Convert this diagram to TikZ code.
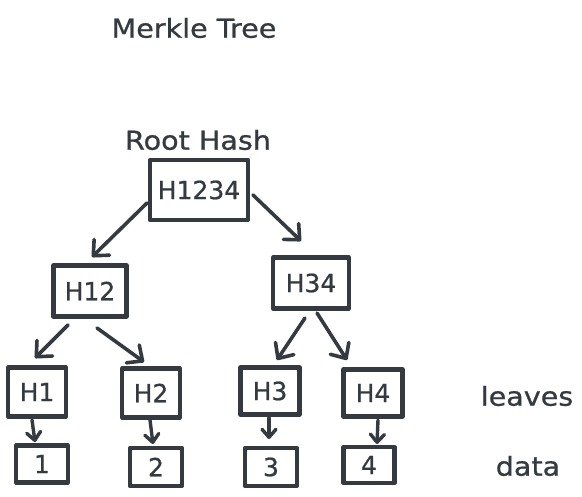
\documentclass[tikz,border=0pt]{standalone}
\usepackage{fontspec}
\setmainfont[FakeBold=0.6]{DejaVu Sans}
\newfontfamily\boxfont[FakeBold=0.8]{DejaVu Sans}
\newfontfamily\widefont[FakeStretch=1.1,FakeBold=0.8]{DejaVu Sans}
\usetikzlibrary{arrows.meta,calc}
\definecolor{ink}{HTML}{343A40}
\tikzset{
  box/.style={draw=ink, line width=4.2pt, text=ink, inner sep=0pt, line join=round,
    font=\boxfont\fontsize{25}{28}\selectfont},
  lbl/.style={text=ink, inner sep=0pt, font=\widefont\fontsize{26}{30}\selectfont},
  arr/.style={draw=ink, line width=3.6pt, line cap=round, line join=round,
    -{Straight Barb[length=12pt,width=22pt,line cap=round,line join=round]}},
  sarr/.style={draw=ink, line width=3.4pt, line cap=round, line join=round,
    -{Straight Barb[length=8pt,width=14pt,line cap=round,line join=round]}}
}
\begin{document}
\begin{tikzpicture}[x=1pt,y=-1pt]
\useasboundingbox[fill=white] (0,0) rectangle (582,497);
% labels
\node[lbl] (title) at (194,28) {Merkle Tree};
\node[lbl] (root) at (198,140) {Root Hash};
\node[lbl] (leaves) at (527,396) {leaves};
\node[lbl] (data) at (528,466) {data};
% hash boxes
\node[box, minimum width=98pt, minimum height=60pt] (h1234) at (199,190) {H1234};
\node[box, minimum width=73pt, minimum height=51pt] (h12) at (90,291) {H12};
\node[box, minimum width=76pt, minimum height=51pt] (h34) at (311,283) {H34};
\node[box, minimum width=58pt, minimum height=49pt] (h1) at (37,392) {H1};
\node[box, minimum width=58pt, minimum height=49pt] (h2) at (151,393) {H2};
\node[box, minimum width=59pt, minimum height=47pt] (h3) at (270,391) {H3};
\node[box, minimum width=59pt, minimum height=47pt] (h4) at (373,393) {H4};
% data boxes
\node[box, minimum width=52pt, minimum height=37pt] (d1) at (42,464) {1};
\node[box, minimum width=52pt, minimum height=38pt] (d2) at (156,467) {2};
\node[box, minimum width=52pt, minimum height=38pt] (d3) at (271,467) {3};
\node[box, minimum width=51pt, minimum height=36pt] (d4) at (369,465) {4};
% connectors
\draw[arr] ($(h1234)+(-52,13)$) -- ($(h12)+(2,-34)$);
\draw[arr] ($(h1234)+(54,5)$) -- ($(h34)+(-10,-42)$);
\draw[arr] ($(h12)+(-22,34)$) -- ($(h1)+(-2,-34)$);
\draw[arr] ($(h12)+(7,37)$) -- ($(h2)+(-7,-31)$);
\draw[arr] ($(h34)+(-6,35)$) -- ($(h3)+(7,-31)$);
\draw[arr] ($(h34)+(6,30)$) -- ($(h4)+(-26,-33)$);
\draw[sarr] ($(h1)+(-5,28)$) -- ($(d1)+(-7,-22)$);
\draw[sarr] ($(h2)+(-1,27)$) -- ($(d2)+(-3,-23)$);
\draw[sarr] ($(h3)+(-1,27)$) -- ($(d3)+(-2,-28)$);
\draw[sarr] ($(h4)+(5,27)$) -- ($(d4)+(8,-21)$);
\end{tikzpicture}
\end{document}
